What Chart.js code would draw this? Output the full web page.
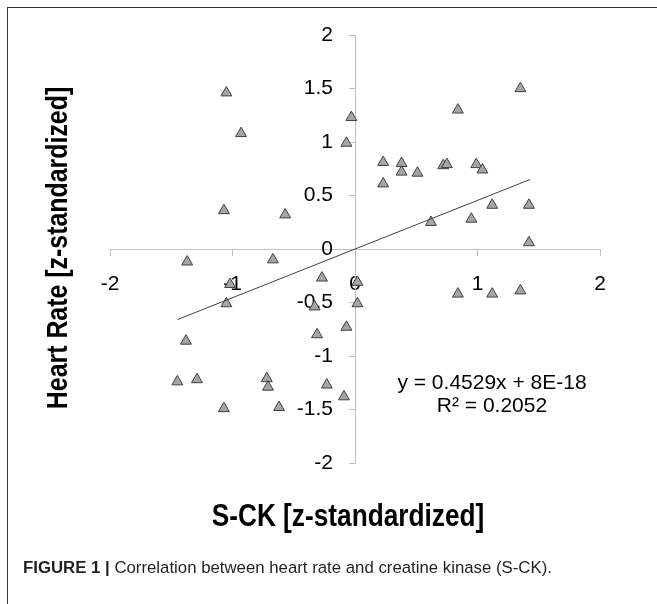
<!DOCTYPE html>
<html>
<head>
<meta charset="utf-8">
<script src="https://cdn.jsdelivr.net/npm/chart.js@4.4.0/dist/chart.umd.min.js"></script>
<style>
  html, body { margin: 0; padding: 0; background: #fff; }
  #wrap { position: relative; width: 657px; height: 604px; overflow: hidden; background: #fff; }
  #c { position: absolute; left: 0; top: 0; }
  .frame { position: absolute; left: 7px; top: 7px; width: 660px; height: 620px;
           border-top: 1.5px solid #333; border-left: 1.5px solid #333; box-sizing: border-box; }
  .ytitle { position: absolute; left: 57px; top: 248px; white-space: nowrap;
            transform: translate(-50%, -50%) rotate(-90deg) scaleX(0.83);
            font-family: "Liberation Sans", Arial, sans-serif;
            font-weight: bold; font-size: 30px; color: #000; line-height: 1; }
  .xtitle { position: absolute; left: 348px; top: 515px; white-space: nowrap;
            transform: translate(-50%, -50%) scaleX(0.82);
            font-family: "Liberation Sans", Arial, sans-serif;
            font-weight: bold; font-size: 32px; color: #000; line-height: 1; }
  .annot { position: absolute; left: 492px; top: 370px; transform: translateX(-50%);
           white-space: nowrap; text-align: center;
           font-family: "Liberation Sans", Arial, sans-serif; font-size: 21px; line-height: 23px; color: #000; }
  .caption { position: absolute; left: 23px; top: 558px; white-space: nowrap;
             font-family: "Liberation Sans", Arial, sans-serif; font-size: 16.8px; line-height: 20px; color: #231f20; }
  .caption b { font-weight: bold; }
</style>
</head>
<body>
<div id="wrap">
  <canvas id="c" width="657" height="604"></canvas>
  <div class="frame"></div>
  <div class="ytitle">Heart Rate [z-standardized]</div>
  <div class="xtitle">S-CK [z-standardized]</div>
  <div class="annot">y = 0.4529x + 8E-18<br>R² = 0.2052</div>
  <div class="caption"><b>FIGURE 1 |</b> Correlation between heart rate and creatine kinase (S-CK).</div>
</div>
<script>
// S-CK (z-standardized) values
const sckValues = [
  -1.05, -0.93, -0.03, -0.07, -1.07, -0.57,
  -1.37, -0.67, -1.02, -1.05, -0.27, 0.02, 0.02, -0.33, -0.31, -0.07,
  -1.38, -1.45, -1.29, -0.72, -0.71, -0.23, -0.09, -1.07, -0.62,
  1.35, 0.84, 0.23, 0.38, 0.38, 0.51, 0.72, 0.75, 0.99, 1.04, 0.23,
  1.12, 1.42, 0.95, 0.62, 1.42, 0.84, 1.12, 1.35
];
// Heart rate (z-standardized) values
const heartRateValues = [
  1.46, 1.08, 1.23, 0.99, 0.36, 0.32,
  -0.12, -0.10, -0.33, -0.51, -0.27, -0.31, -0.51, -0.54, -0.80, -0.73,
  -0.86, -1.24, -1.22, -1.21, -1.29, -1.27, -1.38, -1.49, -1.48,
  1.50, 1.30, 0.81, 0.80, 0.72, 0.71, 0.78, 0.79, 0.79, 0.74, 0.61,
  0.41, 0.41, 0.28, 0.25, 0.06, -0.42, -0.42, -0.39
];
// Linear trend line end points
const trendX = [-1.45, 1.43];
const trendY = [-0.66, 0.65];
// Axis ticks
const xTickLabels = [-2, -1, 0, 1, 2];
const yTickLabels = [-2, -1.5, -1, -0.5, 0, 0.5, 1, 1.5, 2];

const points = sckValues.map((x, i) => ({ x: x, y: heartRateValues[i] }));
const trend = trendX.map((x, i) => ({ x: x, y: trendY[i] }));

const axisColor = '#bfbfbf';
const tickFont = { family: '"Liberation Sans", Arial, sans-serif', size: 21 };

// Centered y axis ignores tick padding; shift its labels left of the tick marks.
const yLabelGap = {
  id: 'yLabelGap',
  beforeDraw(chart) {
    const items = chart.scales.y.getLabelItems();
    items.forEach(it => { it.options.translation[0] -= 22; });
  }
};

new Chart(document.getElementById('c'), {
  type: 'scatter',
  data: {
    datasets: [
      {
        type: 'line',
        data: trend,
        borderColor: '#404040',
        borderWidth: 1,
        pointRadius: 0,
        fill: false,
        order: 0
      },
      {
        data: points,
        pointStyle: 'triangle',
        pointRadius: 6.3,
        pointHoverRadius: 6.3,
        backgroundColor: '#a5a5a5',
        borderColor: '#404040',
        borderWidth: 1,
        order: 1
      }
    ]
  },
  plugins: [yLabelGap],
  options: {
    responsive: false,
    animation: false,
    events: [],
    layout: { padding: { left: 110, right: 57, top: 35, bottom: 141 } },
    plugins: { legend: { display: false }, tooltip: { enabled: false } },
    scales: {
      x: {
        type: 'linear',
        position: { y: 0 },
        min: -2, max: 2,
        afterBuildTicks: (s) => { s.ticks = xTickLabels.map(v => ({ value: v })); },
        grid: { display: true, drawOnChartArea: false, drawTicks: true, tickLength: 6, color: axisColor },
        border: { display: true, color: axisColor, width: 1 },
        ticks: { color: '#000', font: tickFont, padding: 17, maxRotation: 0, autoSkip: false,
                 callback: (v) => String(v) }
      },
      y: {
        type: 'linear',
        position: { x: 0 },
        min: -2, max: 2,
        afterBuildTicks: (s) => { s.ticks = yTickLabels.map(v => ({ value: v })); },
        grid: { display: true, drawOnChartArea: false, drawTicks: true, tickLength: 6, color: axisColor },
        border: { display: true, color: axisColor, width: 1 },
        ticks: { color: '#000', font: tickFont, padding: 14, autoSkip: false,
                 callback: (v) => String(v) }
      }
    }
  }
});
</script>
</body>
</html>
